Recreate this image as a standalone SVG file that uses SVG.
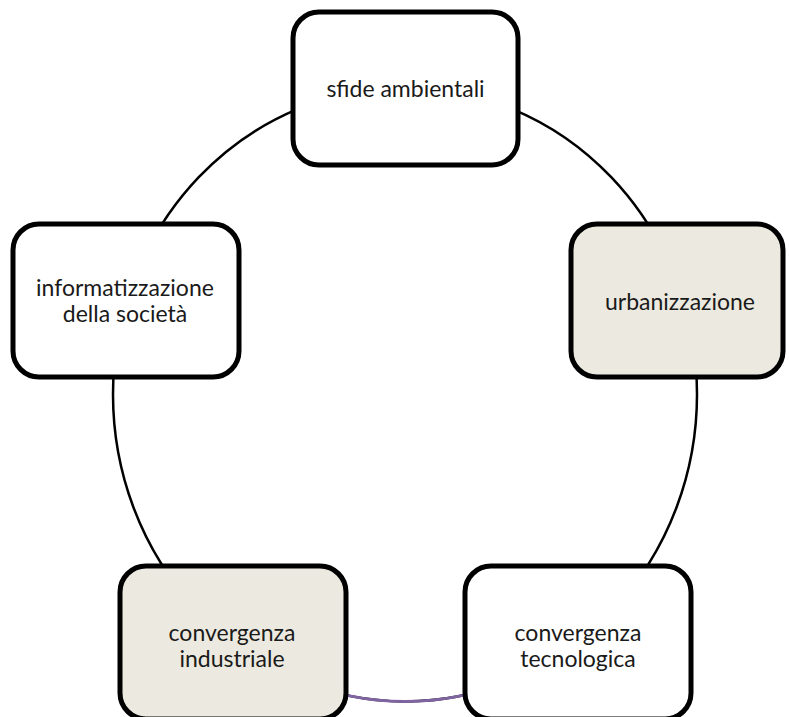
<svg xmlns="http://www.w3.org/2000/svg" width="789" height="717" viewBox="0 0 789 717">
  <style>
    .box { stroke: #000; stroke-width: 5; }
    .plain { fill: #ffffff; }
    .tan { fill: #eceae0; }
    .label { font-family: Lato, "Open Sans", "Liberation Sans", sans-serif; font-size: 23px; fill: #1a1a1a; text-anchor: middle; dominant-baseline: central; }
    .ring { fill: none; stroke: #000; stroke-width: 2.5; }
    .accent { fill: none; stroke: #8064a2; stroke-width: 3; }
  </style>

  <!-- cycle connectors -->
  <g id="connectors">
    <ellipse class="ring" cx="405" cy="394.5" rx="292" ry="307"/>
    <path class="accent" d="M347,695.4 A292,307 0 0 0 463,695.4"/>
  </g>

  <g id="sfide-ambientali">
    <rect class="box plain" x="293" y="12" width="225" height="153" rx="26"/>
    <text class="label" x="405.5" y="88">sfide ambientali</text>
  </g>

  <g id="urbanizzazione">
    <rect class="box tan" x="571" y="224" width="212" height="153" rx="26"/>
    <text class="label" x="680" y="301">urbanizzazione</text>
  </g>

  <g id="informatizzazione">
    <rect class="box plain" x="13" y="224" width="226" height="153" rx="26"/>
    <text class="label" x="125" y="287">informatizzazione</text>
    <text class="label" x="125" y="313">della società</text>
  </g>

  <g id="convergenza-industriale">
    <rect class="box tan" x="120" y="566" width="226" height="153" rx="26"/>
    <text class="label" x="232" y="632">convergenza</text>
    <text class="label" x="232" y="658">industriale</text>
  </g>

  <g id="convergenza-tecnologica">
    <rect class="box plain" x="465" y="566" width="226" height="153" rx="26"/>
    <text class="label" x="578" y="632">convergenza</text>
    <text class="label" x="578" y="658">tecnologica</text>
  </g>
</svg>
